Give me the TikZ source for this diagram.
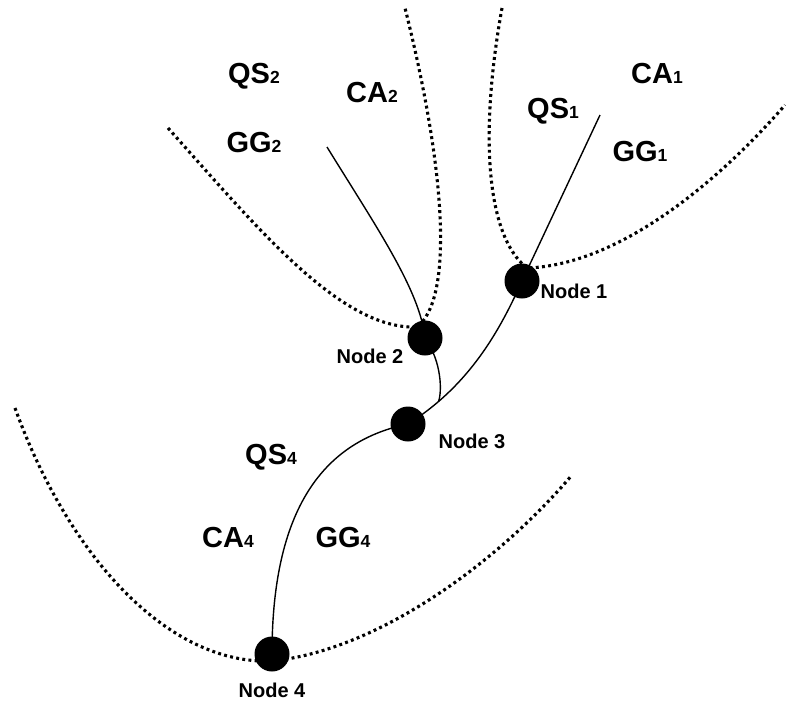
\documentclass[tikz,border=0pt]{standalone}
\usepackage{fontspec}
\setmainfont{Liberation Sans}
\begin{document}
\begin{tikzpicture}[x=1pt,y=-1pt,
  dot/.style={circle,fill=black,draw=none,minimum size=35pt,inner sep=0pt},
  branch/.style={line width=1.4pt},
  bound/.style={line width=3.1pt,dash pattern=on 2.9pt off 3.3pt},
  region/.style={anchor=base,inner sep=0pt,font=\fontsize{29}{29}\selectfont\bfseries},
  nodelabel/.style={anchor=base,inner sep=0pt,font=\fontsize{20}{20}\selectfont\bfseries}]
\newcommand\sublab[2]{#1{\fontsize{17.5}{17.5}\selectfont #2}}
\useasboundingbox (0,0) rectangle (786,705);

% junction points
\node[dot] (n1) at (522,281) {};
\node[dot] (n2) at (425,338) {};
\node[dot] (n3) at (408,424) {};
\node[dot] (n4) at (272,654) {};

% vertices of the dotted boundaries
\coordinate (v1) at (527,268);
\coordinate (v2) at (417,327);
\coordinate (v4) at (272,661);
\coordinate (t1) at (600,115);
\coordinate (t2) at (327,147);

% solid branches
\draw[branch] (t1) -- (n1.center);
\draw[branch] (n1.center) .. controls (500,330) and (470,385) .. (n3.center)
  coordinate[pos=0.82] (j);
\draw[branch] (t2) .. controls (375,225) and (420,290) .. (n2.center);
\draw[branch] (n2.center) .. controls (442,362) and (442,392) .. (j);
\draw[branch] (n3.center) .. controls (330,440) and (272,500) .. (n4.center);

% dotted boundaries
\draw[bound] (168,128) .. controls (255,225) and (340,330) .. (v2)
  .. controls (452,300) and (448,180) .. (405,8);
\draw[bound] (502,8) .. controls (480,130) and (485,235) .. (v1)
  .. controls (620,265) and (720,180) .. (785,105);
\draw[bound] (15,408) .. controls (70,560) and (170,665) .. (v4)
  .. controls (380,650) and (500,560) .. (572,475);

% region labels
\node[region] (qs2) at (254,83)  {\sublab{QS}{2}};
\node[region] (ca2) at (372,102) {\sublab{CA}{2}};
\node[region] (gg2) at (254,152) {\sublab{GG}{2}};
\node[region] (ca1) at (657,83)  {\sublab{CA}{1}};
\node[region] (qs1) at (553,118) {\sublab{QS}{1}};
\node[region] (gg1) at (640,161) {\sublab{GG}{1}};
\node[region] (qs4) at (271,464) {\sublab{QS}{4}};
\node[region] (ca4) at (228,547) {\sublab{CA}{4}};
\node[region] (gg4) at (343,547) {\sublab{GG}{4}};

% node labels
\node[nodelabel] (l1) at (574,298) {Node 1};
\node[nodelabel] (l2) at (370,363) {Node 2};
\node[nodelabel] (l3) at (472,448) {Node 3};
\node[nodelabel] (l4) at (272,697) {Node 4};
\end{tikzpicture}
\end{document}
